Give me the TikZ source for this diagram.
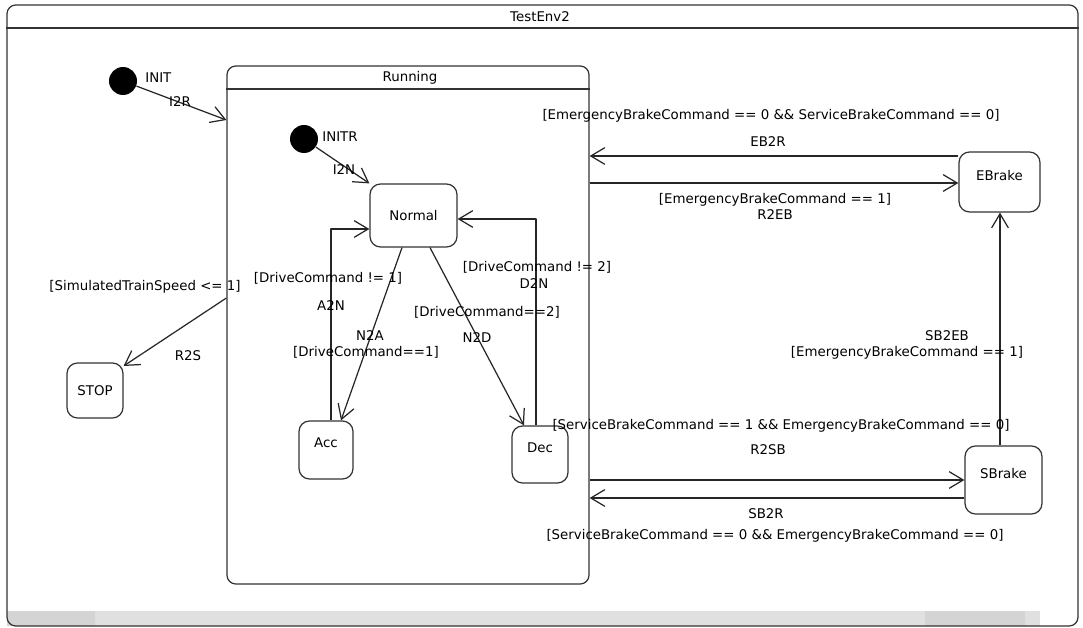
\documentclass[tikz,border=0pt]{standalone}
\usepackage{fontspec}
\setmainfont{DejaVu Sans}
\usetikzlibrary{arrows.meta,fit}
\begin{document}
\begin{tikzpicture}[x=0.02cm,y=-0.02cm,line join=round,font=\fontsize{7.6}{9}\selectfont,
  >={Straight Barb[length=8pt,width=9.5pt]},
  frame/.style={draw=black!80,line width=.7pt,rounded corners=5pt,inner sep=0pt},
  state/.style={draw=black!80,line width=.7pt,rounded corners=6pt,inner sep=0pt},
  high/.style={text depth=8pt},
  start/.style={circle,fill=black,minimum size=0.56cm,inner sep=0pt},
  lbl/.style={inner sep=0pt,text=black}]
\useasboundingbox (0,0) rectangle (1083,628);
% scroll bar
\fill[black!12] (7,611) rectangle (1040,626);
\fill[black!17] (7,611) rectangle (95,626) (925,611) rectangle (1025,626);
% outer state
\node[frame,fit={(7,5)(1078,626)}] (env) {};
\draw[black!80,line width=.7pt] (env.west |- 0,28) -- (env.east |- 0,28);
\node[lbl] (envname) at (540,17) {TestEnv2};
% composite state
\node[frame,fit={(227,66)(589,584)}] (running) {};
\draw[black!80,line width=.7pt] (running.west |- 0,89) -- (running.east |- 0,89);
\node[lbl] (runname) at (410,78) {Running};
% initial points
\node[start] (init) at (123,81) {};
\node[lbl,anchor=west] (initname) at (145,78) {INIT};
\node[start] (initr) at (304,139) {};
\node[lbl,anchor=west] (initrname) at (322,137) {INITR};
% states
\node[state,minimum width=1.74cm,minimum height=1.26cm] (normal) at (413.5,215.5) {Normal};
\node[state,high,minimum width=1.08cm,minimum height=1.16cm] (acc) at (326,450) {Acc};
\node[state,high,minimum width=1.12cm,minimum height=1.14cm] (dec) at (540,454.5) {Dec};
\node[state,minimum width=1.12cm,minimum height=1.1cm] (stop) at (95,390.5) {STOP};
\node[state,high,minimum width=1.62cm,minimum height=1.2cm] (ebrake) at (999.5,182) {EBrake};
\node[state,high,minimum width=1.54cm,minimum height=1.36cm] (sbrake) at (1003.5,480) {SBrake};
% transitions
\begin{scope}[->,black!85,line width=.7pt]
\draw (init) -- (running.west |- 0,120);
\draw (initr) -- (normal.north west);
\draw (normal.south -| 402,0) -- (acc.north -| 341,0);
\draw (acc.north -| 331,0) |- (normal.west |- 0,229);
\draw (normal.south -| 430,0) -- (dec.north -| 524,0);
\draw (dec.north -| 536,0) |- (normal.east |- 0,219);
\draw (running.west |- 0,298) -- (stop.east |- 0,366);
\draw (ebrake.west |- 0,156) -- (running.east |- 0,156);
\draw (running.east |- 0,183) -- (ebrake.west |- 0,183);
\draw (sbrake.north -| 1000,0) -- (ebrake.south -| 1000,0);
\draw (running.east |- 0,480) -- (sbrake.west |- 0,480);
\draw (sbrake.west |- 0,498) -- (running.east |- 0,498);
\end{scope}
% labels
\foreach \x/\y/\t/\n in {180/102/I2R/ti2r, 344/170/I2N/ti2n,
  328/278/{[DriveCommand != 1]}/ga2n, 331/306/A2N/ta2n,
  370/336/N2A/tn2a, 366/352/{[DriveCommand==1]}/gn2a,
  537/267/{[DriveCommand != 2]}/gd2n, 534/284/D2N/td2n,
  487/312/{[DriveCommand==2]}/gn2d, 477/338/N2D/tn2d,
  145/287/{[SimulatedTrainSpeed <= 1]}/gr2s, 188/356/R2S/tr2s,
  771/116/{[EmergencyBrakeCommand == 0 \&\& ServiceBrakeCommand == 0]}/geb2r, 768/142/EB2R/teb2r,
  775/200/{[EmergencyBrakeCommand == 1]}/gr2eb, 775/215/R2EB/tr2eb,
  947/336/SB2EB/tsb2eb, 907/353/{[EmergencyBrakeCommand == 1]}/gsb2eb,
  781/426/{[ServiceBrakeCommand == 1 \&\& EmergencyBrakeCommand == 0]}/gr2sb, 768/450/R2SB/tr2sb,
  766/514/SB2R/tsb2r, 775/536/{[ServiceBrakeCommand == 0 \&\& EmergencyBrakeCommand == 0]}/gsb2r}
  \node[lbl] (\n) at (\x,\y) {\t};
\end{tikzpicture}
\end{document}
